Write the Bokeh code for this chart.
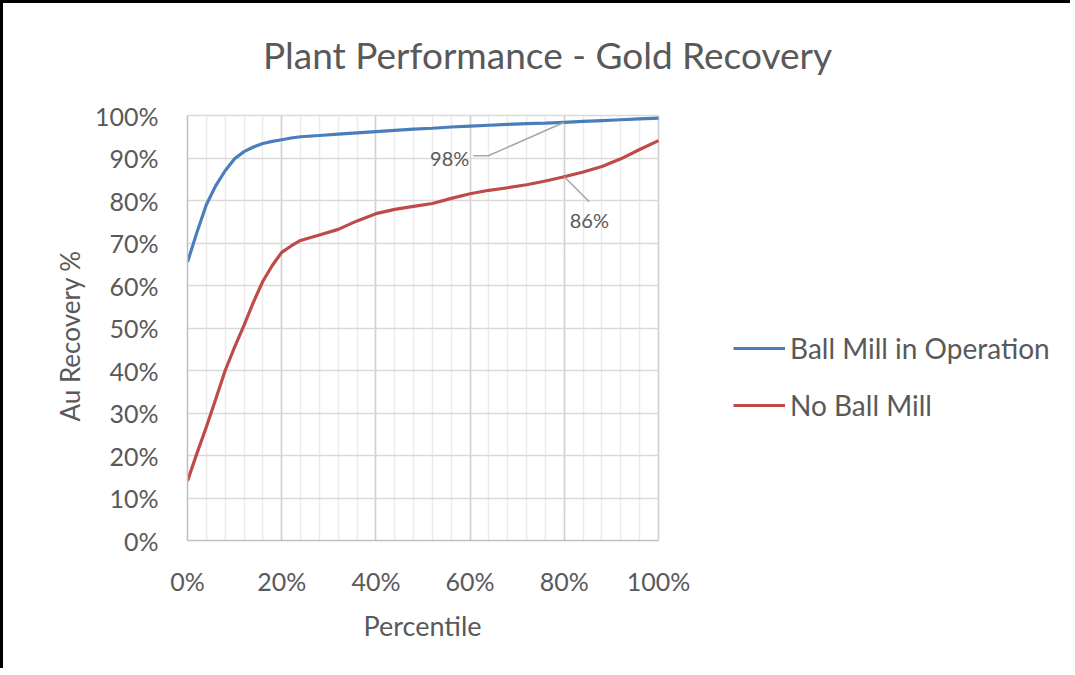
from bokeh.plotting import figure
from bokeh.models import (Range1d, FixedTicker, PrintfTickFormatter, Legend, LegendItem, Label, Title)
from bokeh.embed import file_html
from bokeh.resources import INLINE

# ---------------- data ----------------
percentile = [0, 2, 4, 6, 8, 10, 12, 14, 16, 18, 20, 22, 24, 28, 32, 36, 40, 44, 48, 52, 56, 60,
              64, 68, 72, 76, 80, 84, 88, 92, 96, 100]
ball_mill = [65.5, 72.5, 79.0, 83.5, 87.0, 89.8, 91.5, 92.6, 93.4, 93.9, 94.3, 94.7, 95.0, 95.3, 95.6,
             95.9, 96.2, 96.5, 96.8, 97.0, 97.3, 97.5, 97.7, 97.9, 98.1, 98.2, 98.4, 98.6, 98.8,
             99.0, 99.2, 99.4]
no_ball_mill = [14.0, 20.5, 26.7, 33.3, 40.0, 45.5, 50.6, 56.1, 61.0, 64.7, 67.8, 69.3, 70.6, 71.9,
                73.2, 75.2, 76.9, 77.9, 78.6, 79.3, 80.5, 81.6, 82.4, 83.0, 83.7, 84.6, 85.6, 86.7,
                88.0, 89.8, 92.0, 94.1]
series_names = ["Ball Mill in Operation", "No Ball Mill"]
series_colors = ["#4A7EBB", "#BE4B48"]
x_ticks = [0, 20, 40, 60, 80, 100]
x_minor = [v for v in range(0, 101, 4)]
y_ticks = [v for v in range(0, 101, 10)]
annot_x = 80
annot_labels = ["98%", "86%"]
title_text = "Plant Performance - Gold Recovery"
x_label = "Percentile"
y_label = "Au Recovery %"

TXT = "#595959"
FONT = "Lato"

# canvas / plot-area geometry (pixels)
W, H = 1070, 668
FL = 184                 # left edge of the 0..100 plot area
FB = 537                 # bottom of the plot area (y = 0%) from canvas top
PW, PH = 471, 425        # pixel size of the 0..100 x 0..100 area
x_end = 100.0 * (W - FL) / PW
y_end = 100.0 * FB / PH

p = figure(width=W, height=H, output_backend="svg", toolbar_location=None,
           x_range=Range1d(0, x_end), y_range=Range1d(0, y_end),
           min_border_left=FL, min_border_top=0,
           min_border_right=0, min_border_bottom=H - FB)
p.outline_line_color = None
p.background_fill_color = "white"
p.border_fill_color = "white"
p.styles = {"border-left": "3px solid black", "border-top": "3px solid black"}

# axes
xt = FixedTicker(ticks=x_ticks, minor_ticks=x_minor)
yt = FixedTicker(ticks=y_ticks, minor_ticks=[])
p.xaxis.ticker = xt
p.yaxis.ticker = yt
p.xgrid.ticker = xt
p.ygrid.ticker = yt
p.xaxis.bounds = (0, 100)
p.yaxis.bounds = (0, 100)
p.xaxis.formatter = PrintfTickFormatter(format="%d%%")
p.yaxis.formatter = PrintfTickFormatter(format="%d%%")
for ax in (p.xaxis, p.yaxis):
    ax.major_tick_line_color = None
    ax.minor_tick_line_color = None
    ax.major_tick_in = 0
    ax.major_tick_out = 0
    ax.axis_line_color = "#BFBFBF"
    ax.axis_line_width = 1.5
    ax.major_label_text_font = FONT
    ax.major_label_text_font_size = "25px"
    ax.major_label_text_color = TXT
p.xaxis.major_label_standoff = 21
p.yaxis.major_label_standoff = 29

# axis titles, placed over the 0..100 area
p.add_layout(Title(text=x_label, align="left", offset=176, vertical_align="top", standoff=20,
                   text_font=FONT, text_font_size="27px", text_font_style="normal",
                   text_color=TXT), "below")
p.add_layout(Title(text=y_label, align="left", offset=119, standoff=12,
                   text_font=FONT, text_font_size="26px", text_font_style="normal",
                   text_color=TXT), "left")

# grids (limited to the 0..100 square)
MAJ, MIN_C = "#D0D0D0", "#EBEBEB"
try:
    p.xgrid.bounds = (0, 100)
    p.ygrid.bounds = (0, 100)
    p.xgrid.cross_bounds = (0, 100)
    p.ygrid.cross_bounds = (0, 100)
    p.xgrid.grid_line_color = MAJ
    p.xgrid.grid_line_width = 1.5
    p.xgrid.minor_grid_line_color = MIN_C
    p.xgrid.minor_grid_line_width = 1.5
    p.ygrid.grid_line_color = "#D9D9D9"
    p.ygrid.grid_line_width = 1.5
except Exception:
    p.xgrid.visible = False
    p.ygrid.visible = False
    mins = [v for v in x_minor if v not in x_ticks]
    p.segment(x0=mins, y0=[0] * len(mins), x1=mins, y1=[100] * len(mins),
              line_color=MIN_C, line_width=1.5)
    p.segment(x0=x_ticks, y0=[0] * len(x_ticks), x1=x_ticks, y1=[100] * len(x_ticks),
              line_color=MAJ, line_width=1.5)
    p.segment(x0=[0] * len(y_ticks), y0=y_ticks, x1=[100] * len(y_ticks), y1=y_ticks,
              line_color="#D9D9D9", line_width=1.5)

# series
r1 = p.line(percentile, ball_mill, line_color=series_colors[0], line_width=3.2, line_join="round")
r2 = p.line(percentile, no_ball_mill, line_color=series_colors[1], line_width=3.2, line_join="round")

legend = Legend(items=[LegendItem(label=series_names[0], renderers=[r1]),
                       LegendItem(label=series_names[1], renderers=[r2])],
                location=(546, 118), orientation="vertical",
                glyph_width=52, glyph_height=30, label_height=30, label_standoff=5,
                spacing=23, padding=0, margin=0,
                border_line_color=None, background_fill_alpha=0,
                label_text_font=FONT, label_text_font_size="28px", label_text_color=TXT)
p.add_layout(legend)

# chart title (inside the extended plotting region)
p.add_layout(Label(x=360, y=486, x_units="screen", y_units="screen",
                   text=title_text, text_align="center", text_baseline="alphabetic",
                   text_font=FONT, text_font_size="37px", text_color=TXT))

# data labels with leader lines (pixel offsets converted to data units)
px_x = 100.0 / PW
px_y = 100.0 / PH
y98 = ball_mill[percentile.index(annot_x)]
y86 = no_ball_mill[percentile.index(annot_x)]
lx1 = [annot_x, annot_x - 76 * px_x, annot_x - 91 * px_x]
ly1 = [y98, y98 - 33.5 * px_y, y98 - 33.5 * px_y]
p.line(lx1, ly1, line_color="#A6A6A6", line_width=1.5)
lx2 = [annot_x, annot_x + 25 * px_x]
ly2 = [y86, y86 - 25 * px_y]
p.line(lx2, ly2, line_color="#A6A6A6", line_width=1.5)
p.add_layout(Label(x=annot_x, y=y98, x_offset=-95, y_offset=-36, text=annot_labels[0],
                   text_align="right", text_baseline="middle", text_font=FONT,
                   text_font_size="20px", text_color=TXT))
p.add_layout(Label(x=annot_x, y=y86, x_offset=25, y_offset=-43, text=annot_labels[1],
                   text_align="center", text_baseline="middle", text_font=FONT,
                   text_font_size="20px", text_color=TXT))

open("out.html", "w").write(file_html(p, INLINE))
